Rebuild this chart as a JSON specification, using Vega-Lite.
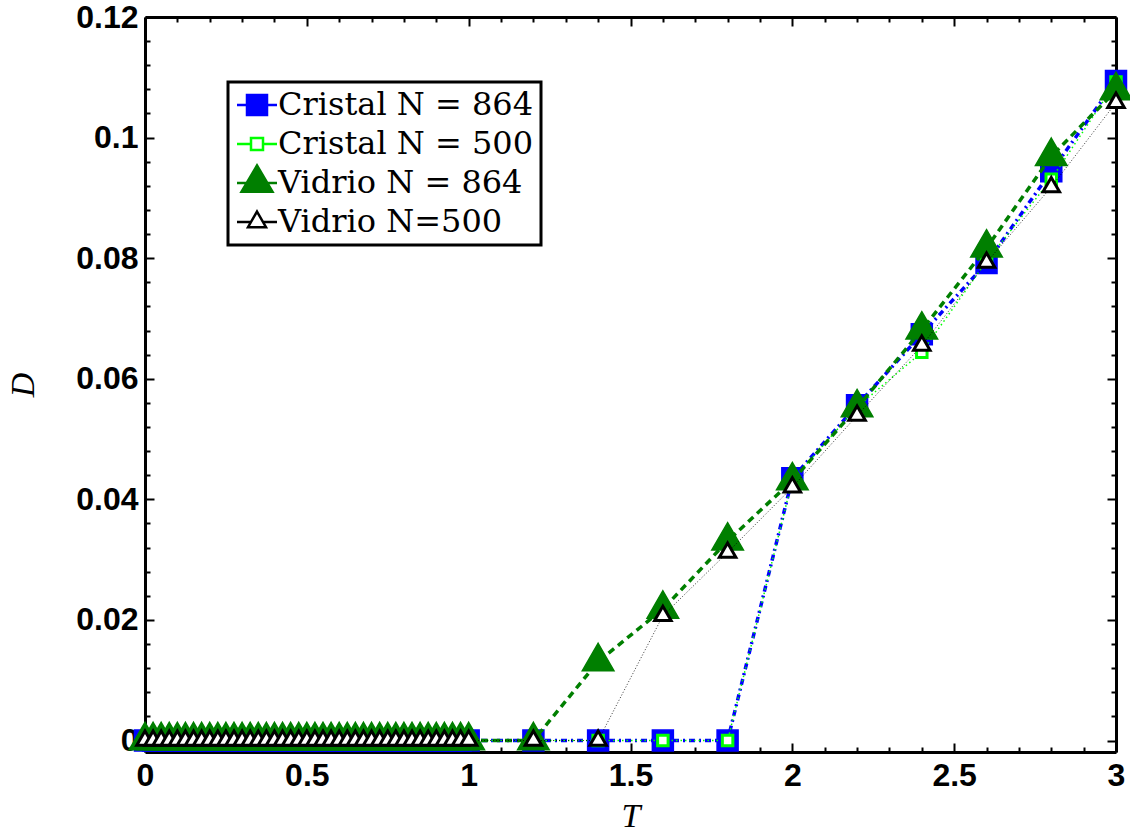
{
  "$schema": "https://vega.github.io/schema/vega-lite/v6.json",
  "width": 971,
  "height": 735,
  "autosize": {"type": "none"},
  "padding": {"left": 145, "top": 17, "right": 14, "bottom": 83},
  "background": "white",
  "config": {
    "view": {"stroke": null},
    "axis": {
      "grid": false,
      "domainColor": "black",
      "domainWidth": 3,
      "tickColor": "black",
      "tickWidth": 2,
      "labelColor": "black",
      "labelFont": "Liberation Sans",
      "labelFontSize": 32,
      "labelFontWeight": "bold",
      "labelOverlap": false,
      "labelFlush": false,
      "titleColor": "black",
      "titleFont": "Liberation Serif",
      "titleFontStyle": "italic",
      "titleFontWeight": "normal",
      "titleFontSize": 34
    },
    "legend": {
      "orient": "none",
      "legendX": 83,
      "legendY": 65,
      "strokeColor": "black",
      "strokeWidth": 3,
      "fillColor": "white",
      "padding": 7,
      "labelFont": "DejaVu Serif",
      "labelFontSize": 32,
      "labelColor": "black",
      "labelLimit": 0,
      "labelOffset": 5,
      "symbolOffset": 6,
      "symbolSize": 400,
      "symbolStrokeWidth": 2.5,
      "rowPadding": 0,
      "gridAlign": "all",
      "titleFontSize": 0
    }
  },
  "data": {
    "values": [
      {"T": 0, "c864": 0, "c500": 0, "v864": 0, "v500": 0},
      {"T": 0.025, "c864": 0, "c500": 0, "v864": 0, "v500": 0},
      {"T": 0.05, "c864": 0, "c500": 0, "v864": 0, "v500": 0},
      {"T": 0.075, "c864": 0, "c500": 0, "v864": 0, "v500": 0},
      {"T": 0.1, "c864": 0, "c500": 0, "v864": 0, "v500": 0},
      {"T": 0.125, "c864": 0, "c500": 0, "v864": 0, "v500": 0},
      {"T": 0.15, "c864": 0, "c500": 0, "v864": 0, "v500": 0},
      {"T": 0.175, "c864": 0, "c500": 0, "v864": 0, "v500": 0},
      {"T": 0.2, "c864": 0, "c500": 0, "v864": 0, "v500": 0},
      {"T": 0.225, "c864": 0, "c500": 0, "v864": 0, "v500": 0},
      {"T": 0.25, "c864": 0, "c500": 0, "v864": 0, "v500": 0},
      {"T": 0.275, "c864": 0, "c500": 0, "v864": 0, "v500": 0},
      {"T": 0.3, "c864": 0, "c500": 0, "v864": 0, "v500": 0},
      {"T": 0.325, "c864": 0, "c500": 0, "v864": 0, "v500": 0},
      {"T": 0.35, "c864": 0, "c500": 0, "v864": 0, "v500": 0},
      {"T": 0.375, "c864": 0, "c500": 0, "v864": 0, "v500": 0},
      {"T": 0.4, "c864": 0, "c500": 0, "v864": 0, "v500": 0},
      {"T": 0.425, "c864": 0, "c500": 0, "v864": 0, "v500": 0},
      {"T": 0.45, "c864": 0, "c500": 0, "v864": 0, "v500": 0},
      {"T": 0.475, "c864": 0, "c500": 0, "v864": 0, "v500": 0},
      {"T": 0.5, "c864": 0, "c500": 0, "v864": 0, "v500": 0},
      {"T": 0.525, "c864": 0, "c500": 0, "v864": 0, "v500": 0},
      {"T": 0.55, "c864": 0, "c500": 0, "v864": 0, "v500": 0},
      {"T": 0.575, "c864": 0, "c500": 0, "v864": 0, "v500": 0},
      {"T": 0.6, "c864": 0, "c500": 0, "v864": 0, "v500": 0},
      {"T": 0.625, "c864": 0, "c500": 0, "v864": 0, "v500": 0},
      {"T": 0.65, "c864": 0, "c500": 0, "v864": 0, "v500": 0},
      {"T": 0.675, "c864": 0, "c500": 0, "v864": 0, "v500": 0},
      {"T": 0.7, "c864": 0, "c500": 0, "v864": 0, "v500": 0},
      {"T": 0.725, "c864": 0, "c500": 0, "v864": 0, "v500": 0},
      {"T": 0.75, "c864": 0, "c500": 0, "v864": 0, "v500": 0},
      {"T": 0.775, "c864": 0, "c500": 0, "v864": 0, "v500": 0},
      {"T": 0.8, "c864": 0, "c500": 0, "v864": 0, "v500": 0},
      {"T": 0.825, "c864": 0, "c500": 0, "v864": 0, "v500": 0},
      {"T": 0.85, "c864": 0, "c500": 0, "v864": 0, "v500": 0},
      {"T": 0.875, "c864": 0, "c500": 0, "v864": 0, "v500": 0},
      {"T": 0.9, "c864": 0, "c500": 0, "v864": 0, "v500": 0},
      {"T": 0.925, "c864": 0, "c500": 0, "v864": 0, "v500": 0},
      {"T": 0.95, "c864": 0, "c500": 0, "v864": 0, "v500": 0},
      {"T": 0.975, "c864": 0, "c500": 0, "v864": 0, "v500": 0},
      {"T": 1.0, "c864": 0, "c500": 0, "v864": 0, "v500": 0},
      {"T": 1.2, "c864": 0, "c500": 0, "v864": 0, "v500": 0},
      {"T": 1.4, "c864": 0, "c500": 0, "v864": 0.0131, "v500": 0},
      {"T": 1.6, "c864": 0, "c500": 0, "v864": 0.0218, "v500": 0.0207},
      {"T": 1.8, "c864": 0, "c500": 0, "v864": 0.0331, "v500": 0.0312},
      {"T": 2.0, "c864": 0.0435, "c500": 0.0432, "v864": 0.0431, "v500": 0.042},
      {"T": 2.2, "c864": 0.0556, "c500": 0.0553, "v864": 0.0552, "v500": 0.0539},
      {"T": 2.4, "c864": 0.0674, "c500": 0.0644, "v864": 0.0681, "v500": 0.0655},
      {"T": 2.6, "c864": 0.0792, "c500": 0.0795, "v864": 0.0817, "v500": 0.0793},
      {"T": 2.8, "c864": 0.0944, "c500": 0.0931, "v864": 0.0969, "v500": 0.0918},
      {"T": 3.0, "c864": 0.1094, "c500": 0.1092, "v864": 0.1078, "v500": 0.1058}
    ]
  },
  "transform": [
    {"fold": ["c864", "c500", "v864", "v500"], "as": ["series", "D"]}
  ],
  "encoding": {
    "x": {
      "field": "T",
      "type": "quantitative",
      "scale": {"domain": [0, 3], "nice": false, "zero": false},
      "axis": {
        "orient": "bottom",
        "title": "T",
        "values": [0, 0.1, 0.2, 0.3, 0.4, 0.5, 0.6, 0.7, 0.8, 0.9, 1, 1.1, 1.2, 1.3, 1.4, 1.5, 1.6, 1.7, 1.8, 1.9, 2, 2.1, 2.2, 2.3, 2.4, 2.5, 2.6, 2.7, 2.8, 2.9, 3],
        "format": "~g",
        "labelExpr": "abs(datum.value*2 - round(datum.value*2)) < 0.01 ? datum.label : ''",
        "tickSize": {"condition": {"test": "abs(datum.value*2 - round(datum.value*2)) < 0.01", "value": -9}, "value": -5},
        "labelPadding": 17,
        "titlePadding": 4
      }
    },
    "y": {
      "field": "D",
      "type": "quantitative",
      "scale": {"domain": [-0.0019, 0.12], "nice": false, "zero": false},
      "axis": {
        "orient": "left",
        "title": "D",
        "values": [0, 0.004, 0.008, 0.012, 0.016, 0.02, 0.024, 0.028, 0.032, 0.036, 0.04, 0.044, 0.048, 0.052, 0.056, 0.06, 0.064, 0.068, 0.072, 0.076, 0.08, 0.084, 0.088, 0.092, 0.096, 0.1, 0.104, 0.108, 0.112, 0.116, 0.12],
        "format": "~g",
        "labelExpr": "abs(datum.value*50 - round(datum.value*50)) < 0.01 ? datum.label : ''",
        "tickSize": {"condition": {"test": "abs(datum.value*50 - round(datum.value*50)) < 0.01", "value": -9}, "value": -5},
        "labelPadding": 16,
        "titlePadding": 35
      }
    }
  },
  "layer": [
    {
      "layer": [
        {
          "transform": [{"filter": "datum.series === 'c864'"}],
          "mark": {"type": "line", "stroke": "#0000ff", "strokeWidth": 3.5, "strokeDash": [6, 4, 2, 4]}
        },
        {
          "transform": [{"filter": "datum.series === 'c864'"}],
          "mark": {"type": "point", "shape": "square", "size": 441, "filled": true, "fill": "#0000ff", "stroke": "#0000ff", "strokeWidth": 1.5, "opacity": 1}
        },
        {
          "transform": [{"filter": "datum.series === 'c500'"}],
          "mark": {"type": "line", "stroke": "#00ff00", "strokeWidth": 1.5, "strokeDash": [1.5, 3]}
        },
        {
          "transform": [{"filter": "datum.series === 'c500'"}],
          "mark": {"type": "point", "shape": "square", "size": 110, "filled": true, "fill": "#ffffff", "stroke": "#00ff00", "strokeWidth": 3, "opacity": 1}
        },
        {
          "transform": [{"filter": "datum.series === 'v864'"}],
          "mark": {"type": "line", "stroke": "#007f00", "strokeWidth": 3.5, "strokeDash": [7, 5]}
        },
        {
          "transform": [{"filter": "datum.series === 'v864'"}],
          "mark": {"type": "point", "shape": "M0,-1.155L1,0.577L-1,0.577Z", "size": 1000, "filled": true, "fill": "#007f00", "stroke": "#007f00", "strokeWidth": 1.5, "opacity": 1}
        },
        {
          "transform": [{"filter": "datum.series === 'v500'"}],
          "mark": {"type": "line", "stroke": "#000000", "strokeWidth": 1, "strokeDash": [1, 2], "opacity": 0.8}
        },
        {
          "transform": [{"filter": "datum.series === 'v500'"}],
          "mark": {"type": "point", "shape": "M0,-1.155L1,0.577L-1,0.577Z", "size": 272, "filled": true, "fill": "#ffffff", "stroke": "#000000", "strokeWidth": 3, "opacity": 1}
        },
        {
          "transform": [{"filter": "false"}],
          "mark": {"type": "point", "filled": true, "opacity": 1, "size": 400, "strokeWidth": 2.5},
          "encoding": {
            "shape": {
              "field": "series",
              "type": "nominal",
              "title": null,
              "scale": {
                "domain": ["c864", "c500", "v864", "v500"],
                "range": [
                  "M-2,0H2M-1,-1H1V1H-1Z",
                  "M-2,0H-0.6M0.6,0H2M-0.6,-0.6H0.6V0.6H-0.6Z",
                  "M-2,0H2M0,-1.76L1.55,0.88L-1.55,0.88Z",
                  "M-2,0H-0.6M0.6,0H2M0,-1.04L0.9,0.52L-0.9,0.52Z"
                ]
              },
              "legend": {
                "labelExpr": "datum.label == 'c864' ? 'Cristal N = 864' : datum.label == 'c500' ? 'Cristal N = 500' : datum.label == 'v864' ? 'Vidrio N = 864' : 'Vidrio N=500'"
              }
            },
            "fill": {
              "field": "series",
              "type": "nominal",
              "title": null,
              "scale": {"domain": ["c864", "c500", "v864", "v500"], "range": ["#0000ff", "#ffffff", "#007f00", "#ffffff"]}
            },
            "stroke": {
              "field": "series",
              "type": "nominal",
              "title": null,
              "scale": {"domain": ["c864", "c500", "v864", "v500"], "range": ["#0000ff", "#00ff00", "#007f00", "#000000"]}
            }
          }
        }
      ]
    },
    {
      "mark": {"type": "point", "opacity": 0},
      "encoding": {
        "x": {
          "field": "T",
          "type": "quantitative",
          "scale": {"domain": [0, 3], "nice": false, "zero": false},
          "axis": {
            "orient": "top",
            "title": null,
            "labels": false,
            "values": [0, 0.1, 0.2, 0.3, 0.4, 0.5, 0.6, 0.7, 0.8, 0.9, 1, 1.1, 1.2, 1.3, 1.4, 1.5, 1.6, 1.7, 1.8, 1.9, 2, 2.1, 2.2, 2.3, 2.4, 2.5, 2.6, 2.7, 2.8, 2.9, 3],
            "tickSize": {"condition": {"test": "abs(datum.value*2 - round(datum.value*2)) < 0.01", "value": -9}, "value": -5}
          }
        },
        "y": {
          "field": "D",
          "type": "quantitative",
          "scale": {"domain": [-0.0019, 0.12], "nice": false, "zero": false},
          "axis": {
            "orient": "right",
            "title": null,
            "labels": false,
            "values": [0, 0.004, 0.008, 0.012, 0.016, 0.02, 0.024, 0.028, 0.032, 0.036, 0.04, 0.044, 0.048, 0.052, 0.056, 0.06, 0.064, 0.068, 0.072, 0.076, 0.08, 0.084, 0.088, 0.092, 0.096, 0.1, 0.104, 0.108, 0.112, 0.116, 0.12],
            "tickSize": {"condition": {"test": "abs(datum.value*50 - round(datum.value*50)) < 0.01", "value": -9}, "value": -5}
          }
        }
      }
    }
  ],
  "resolve": {"axis": {"x": "independent", "y": "independent"}}
}
